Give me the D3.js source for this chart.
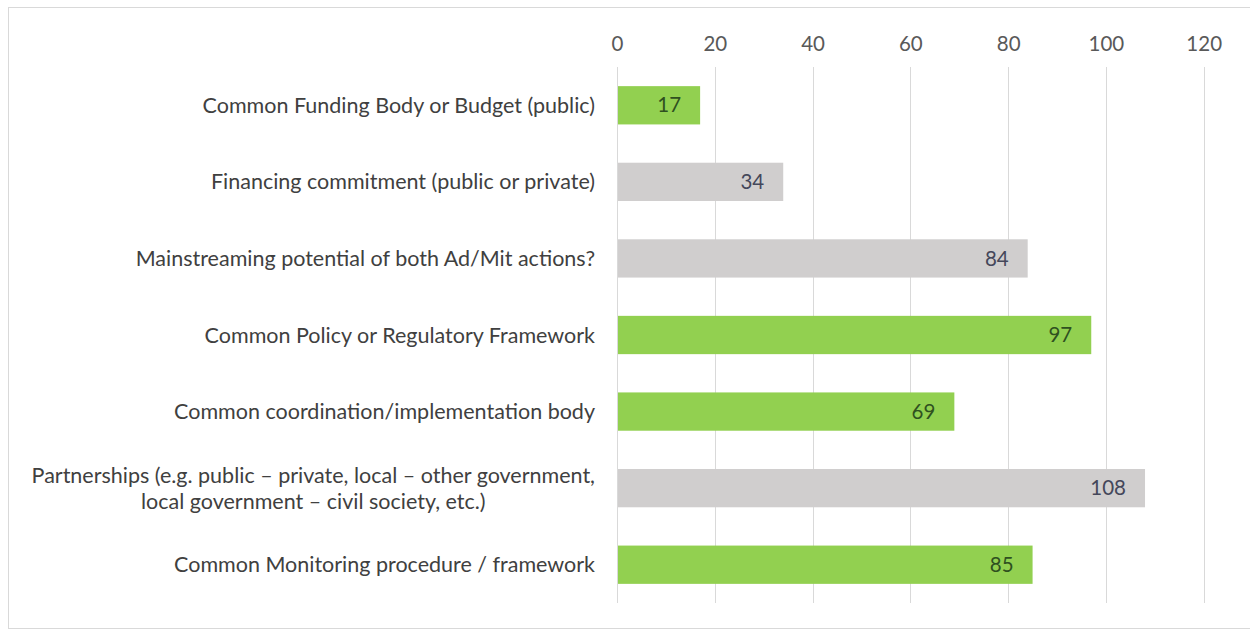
<!DOCTYPE html>
<html>
<head>
<meta charset="utf-8">
<script src="https://cdn.jsdelivr.net/npm/d3@7"></script>
<style>
  html, body { margin: 0; padding: 0; background: #ffffff; }
  svg { display: block; }
  text { font-family: Lato, "Open Sans", sans-serif; }
</style>
</head>
<body>
<svg id="chart" width="1250" height="632"></svg>
<script>
// Categories (top to bottom), each label split into its display lines
const categories = [
  ["Common Funding Body or Budget (public)"],
  ["Financing commitment (public or private)"],
  ["Mainstreaming potential of both Ad/Mit actions?"],
  ["Common Policy or Regulatory Framework"],
  ["Common coordination/implementation body"],
  ["Partnerships (e.g. public \u2013 private, local \u2013 other government,", "local government \u2013 civil society, etc.)"],
  ["Common Monitoring procedure / framework"]
];
const values = [17, 34, 84, 97, 69, 108, 85];
const highlighted = [true, false, false, true, true, false, true];
const tickValues = [0, 20, 40, 60, 80, 100, 120];

const svg = d3.select("#chart");
const W = 1250, H = 632;

// outer frame
svg.append("rect")
  .attr("x", 8.5).attr("y", 7.5)
  .attr("width", W + 20).attr("height", 621)
  .attr("fill", "#ffffff")
  .attr("stroke", "#d9d9d9").attr("stroke-width", 1);

const plot = { left: 617, right: 1203.7, top: 67, bottom: 603 };

const x = d3.scaleLinear().domain([0, 120]).range([plot.left, plot.right]);
const y = d3.scaleBand()
  .domain(d3.range(categories.length))
  .range([plot.top, plot.bottom])
  .paddingInner(0.5).paddingOuter(0.25);

// vertical gridlines
svg.append("g")
  .selectAll("line")
  .data(tickValues)
  .join("line")
  .attr("x1", d => Math.round(x(d)) + 0.5)
  .attr("x2", d => Math.round(x(d)) + 0.5)
  .attr("y1", plot.top).attr("y2", plot.bottom)
  .attr("stroke", "#d9d9d9").attr("stroke-width", 1);

// top value axis (labels only)
const axis = svg.append("g")
  .attr("transform", `translate(0, ${plot.top})`)
  .call(d3.axisTop(x).tickValues(tickValues).tickSize(0).tickPadding(16));
axis.select(".domain").remove();
axis.selectAll("text")
  .attr("fill", "#595959")
  .style("font-size", "20.5px")
  .style("font-family", "Lato, 'Open Sans', sans-serif");

// bars
svg.append("g")
  .selectAll("rect")
  .data(values)
  .join("rect")
  .attr("x", x(0) + 1)
  .attr("y", (d, i) => y(i))
  .attr("width", d => x(d) - x(0) - 1)
  .attr("height", y.bandwidth())
  .attr("fill", (d, i) => highlighted[i] ? "#92d050" : "#d0cece");

// value labels, inside the bar end
svg.append("g")
  .selectAll("text")
  .data(values)
  .join("text")
  .attr("x", d => x(d) - 19)
  .attr("y", (d, i) => y(i) + y.bandwidth() / 2)
  .attr("dy", "0.35em")
  .attr("text-anchor", "end")
  .attr("fill", (d, i) => highlighted[i] ? "#2f5020" : "#44475a")
  .style("font-size", "20.5px")
  .text(d => d);

// category labels, right-aligned block, lines centred within the block
const labelRight = 595;
const lineH = 26;
const catG = svg.append("g");
categories.forEach((lines, i) => {
  const cy = y(i) + y.bandwidth() / 2;
  const g = catG.append("g");
  const texts = lines.map((ln, k) => g.append("text")
    .attr("y", cy + (k - (lines.length - 1) / 2) * lineH)
    .attr("dy", "0.35em")
    .attr("fill", "#404040")
    .style("font-size", "21.5px")
    .text(ln));
  const widths = texts.map(t => t.node().getComputedTextLength());
  const maxW = d3.max(widths);
  texts.forEach(t => t.attr("x", labelRight - maxW / 2).attr("text-anchor", "middle"));
});
</script>
</body>
</html>
